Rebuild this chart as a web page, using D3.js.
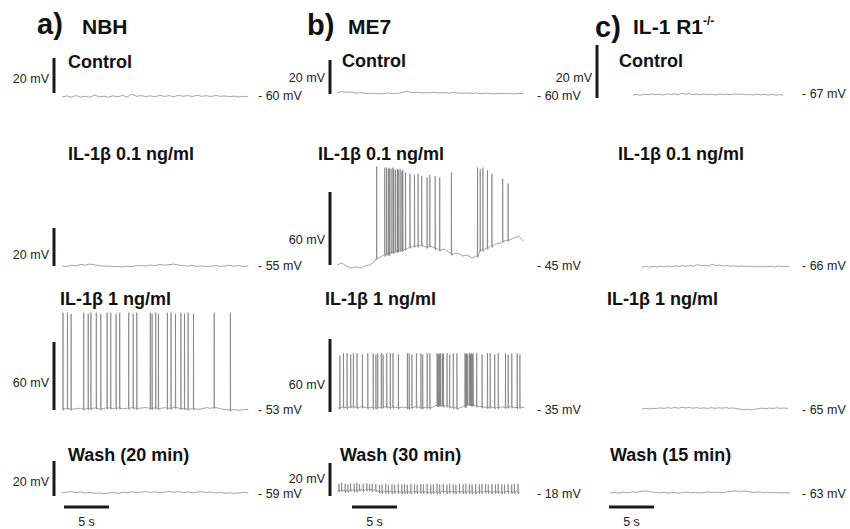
<!DOCTYPE html>
<html><head><meta charset="utf-8">
<script src="https://cdn.jsdelivr.net/npm/d3@7"></script>
<style>
body{margin:0;background:#fff}
text{font-family:"Liberation Sans",Arial,Helvetica,sans-serif}
</style>
</head><body>
<svg id="chart" width="850" height="529"></svg>
<script>
// ---------------- DATA ----------------
const groupLetters = ["a)", "b)", "c)"];
const groupNames = ["NBH", "ME7", "IL-1 R1"];
const groupSup = ["", "", "-/-"];
const conditionTitles = ["Control", "IL-1β 0.1 ng/ml", "IL-1β 1 ng/ml"];
const washTitles = ["Wash (20 min)", "Wash (30 min)", "Wash (15 min)"];
// resting potentials (mV), per group, per condition (Control, 0.1, 1, Wash)
const restNBH = [-60, -55, -53, -59];
const restME7 = [-60, -45, -35, -18];
const restIL1R1 = [-67, -66, -65, -63];
// vertical scale bars (mV); null = no bar
const barsNBH = [20, 20, 60, 20];
const barsME7 = [20, 60, 60, 20];
const barsIL1R1 = [20, null, null, null];
const timeBarSeconds = 5;
// recording durations (s)
const durNBH = [20.7, 20.7, 20.7, 20.7];
const durME7 = [20.7, 20.7, 20.7, 20.3];
const durIL1R1 = [16.7, 16.4, 16.2, 20.0];

// membrane potential samples (mV), evenly spaced over each recording
const nbhControl = [-60,-59.4,-60.1,-59.2,-60,-59.6,-60.2,-58.8,-60,-59.5,-60.1,-59.3,-59.9,-59.1,-60,-58.4,-59.6,-59.2,-59.8,-59.3,-59.9,-59.0,-59.7,-59.2,-59.8,-59.1,-59.6,-59.2,-59.7,-59.0,-59.6,-59.3,-59.7,-59.1,-59.6,-59.4,-59.8,-59.5,-60.0,-59.6,-59.9];
const nbhLow = [-55,-55.3,-54.6,-54.9,-54.2,-54.5,-54.0,-54.4,-54.8,-55.1,-55.0,-55.3,-55.2,-55.4,-55.1,-55.3,-54.9,-54.7,-55.0,-54.5,-54.8,-54.2,-54.6,-54.3,-54.0,-54.5,-54.8,-55.0,-54.7,-55.2,-55.0,-55.3,-55.1,-54.8,-55.2,-55.0,-54.6,-55.1,-54.8,-55.2,-55.0];
const nbhHigh = [-53,-52.5,-53.2,-52.8,-52.3,-53.0,-52.6,-52.1,-52.9,-52.4,-52.0,-52.7,-52.2,-52.8,-52.3,-51.9,-52.6,-52.1,-51.7,-52.4,-52.0,-52.6,-51.8,-52.3,-51.6,-52.2,-52.6,-53.1,-52.7,-53.3,-52.9,-51.8,-52.4,-51.6,-52.8,-53.4,-54.0,-53.5,-54.1,-53.6,-53.2];
const nbhWash = [-59,-58.5,-58.2,-58.8,-58.4,-59.0,-58.6,-59.2,-59.0,-59.3,-59.1,-58.7,-59.2,-58.6,-58.9,-58.3,-58.8,-58.5,-58.2,-58.7,-58.3,-58.9,-58.5,-58.1,-58.6,-58.2,-58.8,-58.4,-58.9,-58.5,-58.2,-58.8,-58.4,-59.0,-58.7,-59.1,-58.9,-59.2,-59.0,-58.6,-59.0];
const me7Control = [-59.2,-58.6,-59.0,-58.8,-59.5,-59.2,-59.6,-59.8,-59.6,-59.9,-59.7,-59.4,-59.8,-59.6,-59.3,-58.4,-59.2,-59.0,-59.4,-59.1,-59.3,-59.0,-59.4,-59.2,-59.5,-59.1,-59.4,-59.6,-59.3,-59.7,-59.4,-59.8,-59.5,-59.7,-59.9,-59.6,-59.8,-59.7,-59.9,-59.6,-59.8];
const me7Low = [-45,-43.4,-45.8,-47.5,-46.6,-47.5,-45.8,-45,-42.5,-39.3,-36.8,-36.0,-34.3,-33.5,-32.7,-31.9,-30.2,-29.4,-28.6,-30.2,-29.4,-31.1,-32.7,-31.9,-34.3,-36.0,-35.2,-37.6,-36.8,-39.3,-37.6,-32.7,-31.1,-29.4,-27.8,-27.0,-25.3,-24.5,-22.9,-21.2,-25.3];
const me7High = [-35,-34.2,-34.8,-34.0,-34.6,-34.1,-34.7,-34.3,-34.9,-34.4,-34.0,-34.6,-34.2,-34.8,-34.3,-34.9,-34.5,-34.1,-34.7,-34.3,-34.8,-33.0,-32.5,-33.2,-34.0,-34.6,-35.2,-33.5,-31.8,-32.4,-33.4,-34.1,-34.6,-34.2,-34.7,-34.0,-34.5,-34.1,-34.6,-34.3,-34.8];
const me7Wash = [-17,-16.8,-17.2,-16.6,-17.0,-16.5,-16.9,-16.4,-16.8,-17.6,-18.0,-17.7,-18.1,-17.8,-18.2,-17.9,-18.1,-17.7,-18.0,-17.8,-18.2,-17.9,-18.1,-17.6,-18.0,-17.8,-18.1,-17.7,-18.0,-17.9,-18.2,-17.8,-18.0,-17.7,-18.1,-17.9,-18.2,-17.8,-18.0,-17.9,-18.1];
const ilrControl = [-67,-66.8,-67.1,-66.7,-66.9,-66.6,-66.9,-66.7,-67.0,-66.6,-66.8,-66.6,-66.9,-66.4,-66.7,-66.5,-66.8,-66.6,-66.9,-66.6,-66.9,-66.7,-67.0,-66.6,-66.8,-66.7,-66.9,-66.6,-66.8,-66.6,-66.9,-66.7,-67.0,-66.7,-66.9,-66.8,-67.0,-66.8,-67.0,-66.9,-67.0];
const ilrLow = [-66,-65.7,-66.1,-65.6,-66.0,-65.5,-65.9,-65.4,-65.8,-65.3,-65.7,-65.2,-65.6,-65.1,-65.5,-64.6,-65.3,-65.0,-65.4,-64.4,-65.1,-64.9,-65.4,-65.1,-65.6,-65.3,-65.7,-65.4,-65.8,-65.5,-65.9,-65.6,-65.8,-65.5,-65.9,-65.6,-66.0,-65.4,-65.8,-65.6,-65.9];
const ilrHigh = [-65,-64.6,-65.0,-64.5,-64.8,-64.3,-64.7,-64.2,-64.6,-64.1,-64.5,-64.0,-64.4,-64.1,-64.5,-64.2,-64.6,-64.3,-64.7,-64.2,-64.6,-64.3,-64.5,-64.2,-64.6,-64.4,-64.8,-65.1,-65.4,-65.2,-65.5,-65.1,-64.8,-64.5,-64.8,-64.4,-64.7,-64.3,-64.6,-64.4,-64.7];
const ilrWash = [-63,-62.7,-63.1,-62.5,-62.9,-62.3,-62.6,-62.0,-61.8,-62.3,-62.6,-62.9,-62.6,-63.0,-62.7,-63.1,-62.8,-62.5,-62.9,-62.6,-63.0,-62.7,-62.4,-62.8,-62.5,-62.9,-62.3,-62.0,-61.7,-62.2,-61.8,-62.3,-62.7,-62.4,-62.8,-62.5,-62.9,-62.7,-63.0,-62.8,-63.0];

// action potentials: times (s) and peak potentials (mV)
const nbhHighSpikeTimes = [0.1,0.6,1.0,2.4,2.9,3.2,3.8,4.3,5.0,5.4,6.0,6.4,7.4,7.9,8.3,9.8,10.0,10.4,10.7,11.7,12.1,12.6,13.2,13.6,14.0,14.6,16.9,18.7];
const nbhHighSpikePeaks = [32,32,31,32,31,32,32,31,32,32,31,32,32,31,32,32,31,32,31,32,32,31,32,31,32,31,32,32];
const me7LowSpikeTimes = [4.4,5.3,5.5,5.7,5.8,6.0,6.2,6.3,6.5,6.7,6.8,7.0,7.2,7.3,7.6,8.1,8.6,9.0,9.4,10.0,10.3,10.9,11.4,12.7,15.6,15.9,16.2,16.7,17.2,18.4,19.0];
const me7LowSpikePeaks = [36,35,35,34,35,34,35,34,33,34,33,34,32,33,31,30,29,30,28,27,29,28,27,31,35,34,35,33,30,26,22];
const me7HighSpikeTimes = [0.2,0.6,1.0,1.4,1.7,2.1,2.7,3.3,3.9,4.2,4.4,4.8,5.0,5.4,5.8,6.1,6.7,7.7,7.9,8.2,8.7,9.2,9.4,9.9,10.2,11.0,11.1,11.2,11.3,11.4,11.6,11.7,12.1,12.4,12.8,13.2,14.1,14.2,14.3,14.4,14.6,14.7,14.8,14.9,15.0,15.4,16.0,16.6,16.9,17.4,17.8,18.6,18.9,19.3,19.9,20.2];
const me7HighSpikePeaks = [8,10,10,9,10,10,9,10,10,9,10,10,9,10,10,10,9,10,10,9,10,10,9,10,10,10,9,10,9,10,9,10,10,9,10,10,10,9,10,9,10,9,10,9,10,10,9,10,10,9,10,10,9,10,10,9];
const me7WashSpikeTimes = [0.2,0.5,0.9,1.2,1.5,1.9,2.2,2.5,2.9,3.3,3.6,3.9,4.3,4.7,5.0,5.4,5.7,6.1,6.4,6.8,7.2,7.5,7.8,8.2,8.6,8.9,9.3,9.6,10.0,10.4,10.7,11.1,11.4,11.8,12.2,12.5,12.9,13.2,13.6,14.0,14.3,14.7,15.0,15.4,15.8,16.1,16.5,16.8,17.2,17.6,17.9,18.3,18.6,19.0,19.4,19.7,20.1];
const me7WashSpikePeaks = [-13,-12.5,-13,-13.5,-12.8,-13,-12.5,-13.2,-13,-12.7,-13.4,-13,-13.2,-13.8,-13.5,-13,-13.6,-13.2,-13.5,-13,-13.4,-13.1,-13.6,-13,-13.3,-13.5,-13.1,-13.4,-13,-13.5,-13.2,-13,-13.4,-13.1,-13.5,-13,-13.3,-13.6,-13.1,-13.4,-13,-13.3,-13.5,-13.1,-13.4,-13,-13.2,-13.5,-13.1,-13.4,-13,-13.3,-13.5,-13.1,-13.4,-13.2,-13];

// ---------------- LAYOUT (pixels) ----------------
const colX = [{letter:37, name:82, nameY:34, letterY:34, barX:54, restX:258, tbarX:64},
              {letter:307, name:348, nameY:34, letterY:35, barX:330, restX:537, tbarX:352},
              {letter:595, name:633, nameY:34, letterY:37, barX:597, restX:802, tbarX:609}];
// per column, per row
const panelLayout = [
  [ {x0:62, y0:97, barBottom:93, gain:35/20, barLabelY:83, restY:100, titleX:68, titleY:68},
    {x0:62, y0:266, barBottom:266, gain:38/20, barLabelY:259, restY:270, titleX:68, titleY:160},
    {x0:62, y0:409, barBottom:410, gain:68/60, barLabelY:387, restY:414, titleX:60, titleY:305},
    {x0:62, y0:493, barBottom:496, gain:35/20, barLabelY:486, restY:498, titleX:68, titleY:461} ],
  [ {x0:337, y0:94, barBottom:94, gain:34/20, barLabelY:82, restY:100, titleX:342, titleY:67},
    {x0:337, y0:265, barBottom:265, gain:73/60, barLabelY:244, restY:270, titleX:318, titleY:160},
    {x0:338, y0:408, barBottom:412, gain:73/60, barLabelY:389, restY:414, titleX:325, titleY:305},
    {x0:337, y0:492, barBottom:496, gain:33/20, barLabelY:483, restY:498, titleX:340, titleY:461} ],
  [ {x0:633, y0:95, barBottom:98, gain:53/20, barLabelY:82, restY:98, titleX:619, titleY:67},
    {x0:642, y0:267, gain:1.7, restY:270, titleX:618, titleY:160},
    {x0:642, y0:409, gain:1.7, restY:414, titleX:607, titleY:305},
    {x0:610, y0:493, gain:1.7, restY:498, titleX:610, titleY:461} ]
];
const pxPerSecond = 9;
const timeBarY = 507, timeLabelY = 526;

// ---------------- BUILD ----------------
const rests = [restNBH, restME7, restIL1R1];
const bars = [barsNBH, barsME7, barsIL1R1];
const durs = [durNBH, durME7, durIL1R1];
const traces = [[nbhControl, nbhLow, nbhHigh, nbhWash],
                [me7Control, me7Low, me7High, me7Wash],
                [ilrControl, ilrLow, ilrHigh, ilrWash]];
const spikes = [[null, null, [nbhHighSpikeTimes, nbhHighSpikePeaks], null],
                [null, [me7LowSpikeTimes, me7LowSpikePeaks], [me7HighSpikeTimes, me7HighSpikePeaks], [me7WashSpikeTimes, me7WashSpikePeaks]],
                [null, null, null, null]];

const svg = d3.select("#chart");

function buildPoints(base, dur, sp) {
  const n = base.length;
  const pts = base.map((v, i) => ({t: i * dur / (n - 1), v}));
  if (sp) {
    const [times, peaks] = sp;
    times.forEach((ts, k) => {
      const i = Math.min(n - 1, Math.round(ts / dur * (n - 1)));
      const foot = base[i];
      pts.push({t: ts - 0.005, v: foot}, {t: ts + 0.012, v: peaks[k]},
               {t: ts + 0.035, v: foot - 1.2}, {t: ts + 0.08, v: foot});
    });
  }
  pts.sort((a, b) => a.t - b.t);
  return pts;
}

groupLetters.forEach((L, c) => {
  const cx = colX[c];
  svg.append("text").attr("x", cx.letter).attr("y", cx.letterY)
    .attr("font-size", 29).attr("font-weight", "bold").attr("fill", "#111").text(L);
  const nm = svg.append("text").attr("x", cx.name).attr("y", cx.nameY)
    .attr("font-size", 21).attr("font-weight", "bold").attr("fill", "#111");
  nm.append("tspan").text(groupNames[c]);
  if (groupSup[c]) nm.append("tspan").attr("font-size", 12).attr("dy", -9).text(groupSup[c]);

  for (let r = 0; r < 4; r++) {
    const P = panelLayout[c][r];
    const rest = rests[c][r];
    const dur = durs[c][r];
    const x = d3.scaleLinear().domain([0, timeBarSeconds]).range([P.x0, P.x0 + timeBarSeconds * pxPerSecond]);
    const y = d3.scaleLinear().domain([rest, rest + 20]).range([P.y0, P.y0 - 20 * P.gain]);

    // title
    svg.append("text").attr("x", P.titleX).attr("y", P.titleY)
      .attr("font-size", 18).attr("font-weight", "bold").attr("fill", "#111")
      .text(r < 3 ? conditionTitles[r] : washTitles[c]);

    // trace
    const pts = buildPoints(traces[c][r], dur, spikes[c][r]);
    const line = d3.line().x(d => x(d.t)).y(d => y(d.v));
    svg.append("path").attr("d", line(pts)).attr("fill", "none")
      .attr("stroke", "#737373").attr("stroke-width", 0.65).attr("stroke-linejoin", "miter");

    // vertical scale bar
    const bmv = bars[c][r];
    if (bmv != null) {
      const len = y(rest) - y(rest + bmv);
      svg.append("line").attr("x1", cx.barX).attr("x2", cx.barX)
        .attr("y1", P.barBottom).attr("y2", P.barBottom - len)
        .attr("stroke", "#1a1a1a").attr("stroke-width", 3);
      svg.append("text").attr("x", cx.barX - 5).attr("y", P.barLabelY)
        .attr("text-anchor", "end").attr("font-size", 12.5).attr("fill", "#222")
        .text(bmv + " mV");
    }

    // resting potential label
    svg.append("text").attr("x", cx.restX).attr("y", P.restY)
      .attr("font-size", 12.5).attr("fill", "#222").text("- " + Math.abs(rest) + " mV");

    // time bar under last row
    if (r === 3) {
      const tx = d3.scaleLinear().domain([0, timeBarSeconds]).range([cx.tbarX, cx.tbarX + timeBarSeconds * pxPerSecond]);
      svg.append("line").attr("x1", tx(0)).attr("x2", tx(timeBarSeconds))
        .attr("y1", timeBarY).attr("y2", timeBarY)
        .attr("stroke", "#1a1a1a").attr("stroke-width", 3);
      svg.append("text").attr("x", tx(timeBarSeconds / 2)).attr("y", timeLabelY)
        .attr("text-anchor", "middle").attr("font-size", 12.5).attr("fill", "#222")
        .text(timeBarSeconds + " s");
    }
  }
});
</script>
</body></html>
